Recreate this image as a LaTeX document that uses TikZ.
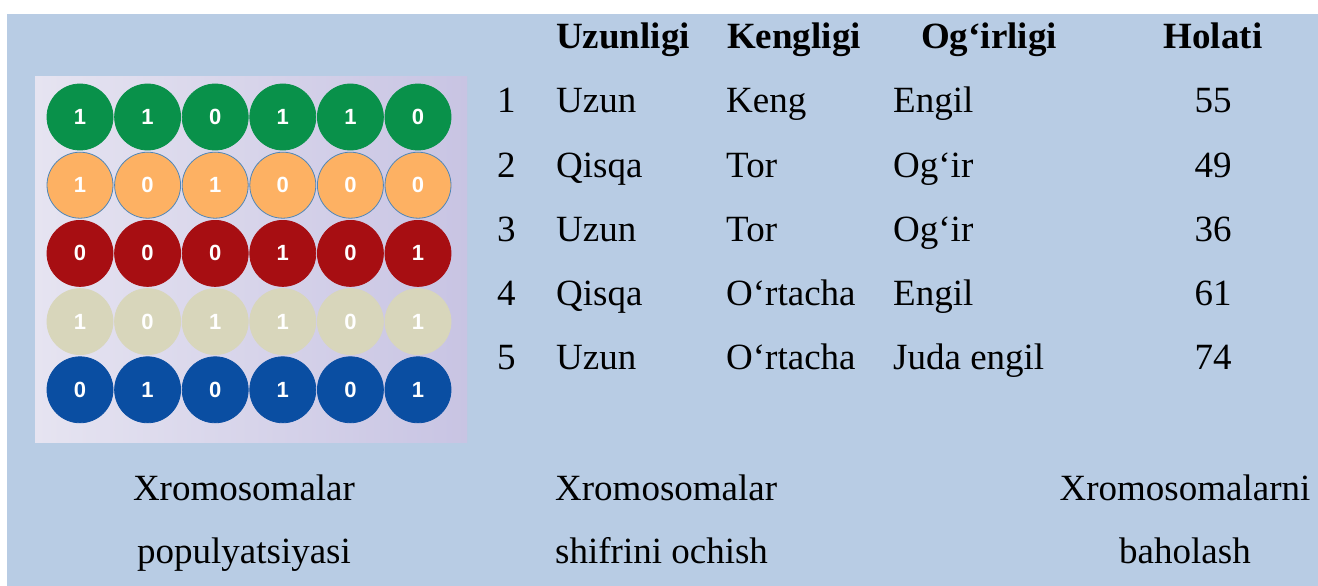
\documentclass[tikz,border=0pt]{standalone}
\usepackage{fontspec}
\setmainfont{Liberation Serif}
\newfontfamily\bitfont{Liberation Sans}
\definecolor{bgblue}{HTML}{B8CCE4}
\definecolor{panelL}{HTML}{E6E4F1}
\definecolor{panelR}{HTML}{C8C4E3}
\definecolor{chgreen}{HTML}{09914A}
\definecolor{chorange}{HTML}{FDB163}
\definecolor{chedge}{HTML}{4F86B8}
\definecolor{chred}{HTML}{A70E12}
\definecolor{chbeige}{HTML}{D8D6BB}
\definecolor{chblue}{HTML}{0A4EA2}

\begin{document}
\begin{tikzpicture}[x=1pt, y=-1pt,
    bit/.style={circle, minimum size=66pt, inner sep=0pt, line width=0.8pt,
      text=white, font=\bitfont\bfseries\fontsize{22}{22}\selectfont},
    cell/.style={anchor=base west, inner sep=0pt, font=\fontsize{37}{44}\selectfont},
    head/.style={cell, font=\bfseries\fontsize{37}{44}\selectfont},
    caption/.style={anchor=base, inner sep=0pt, font=\fontsize{37}{44}\selectfont}]
  \useasboundingbox (0,0) rectangle (1318,586);
  \fill[bgblue] (7,14) rectangle (1318,586);
  % population of chromosomes
  \shade[left color=panelL, right color=panelR] (35,77) rectangle (467,442);
  \foreach \row/\col/\edge/\bits in {0/chgreen/chgreen/{1,1,0,1,1,0},
      1/chorange/chedge/{1,0,1,0,0,0}, 2/chred/chred/{0,0,0,1,0,1},
      3/chbeige/chbeige/{1,0,1,1,0,1}, 4/chblue/chblue/{0,1,0,1,0,1}}
    \foreach \b [count=\i from 0] in \bits
      \node[bit, fill=\col, draw=\edge] (c\row\i) at ({80+67.6*\i},{117+68.2*\row}) {\b};
  % decoding table
  \node[head] (hU) at (556,49) {Uzunligi};
  \node[head] (hK) at (727,49) {Kengligi};
  \node[head, anchor=base] (hO) at (989,49) {Og‘irligi};
  \node[head, anchor=base] (hH) at (1213,49) {Holati};
  \foreach \n/\a/\b/\c/\d in {1/Uzun/Keng/Engil/55, 2/Qisqa/Tor/Og‘ir/49,
      3/Uzun/Tor/Og‘ir/36, 4/Qisqa/O‘rtacha/Engil/61, 5/Uzun/O‘rtacha/Juda engil/74} {
    \node[cell] (n\n) at (497,{49+64*\n}) {\n};
    \node[cell] (u\n) at (556,{49+64*\n}) {\a};
    \node[cell] (k\n) at (726,{49+64*\n}) {\b};
    \node[cell] (o\n) at (893,{49+64*\n}) {\c};
    \node[cell, anchor=base] (h\n) at (1213,{49+64*\n}) {\d};
  }
  % captions
  \node[caption] (popA) at (244,500) {Xromosomalar};
  \node[caption] (popB) at (244,563) {populyatsiyasi};
  \node[caption, anchor=base west] (decA) at (555,500) {Xromosomalar};
  \node[caption, anchor=base west] (decB) at (555,563) {shifrini ochish};
  \node[caption] (evalA) at (1185,500) {Xromosomalarni};
  \node[caption] (evalB) at (1185,563) {baholash};
\end{tikzpicture}
\end{document}
